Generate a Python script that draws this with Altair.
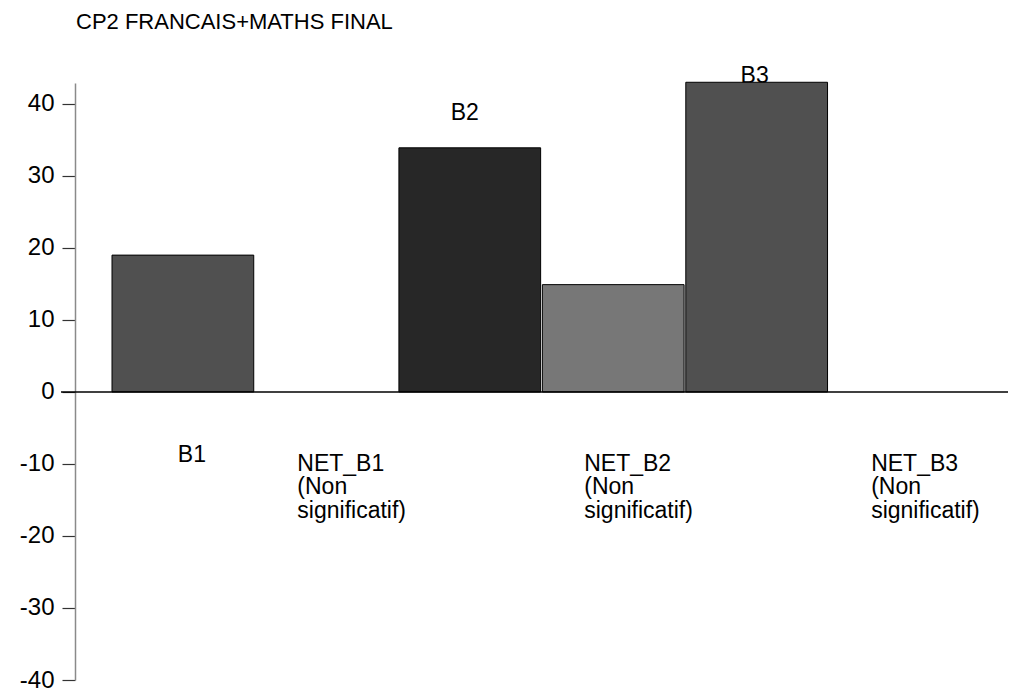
import altair as alt
import pandas as pd

categories = ["B1", "NET_B1", "B2", "NET_B2", "B3", "NET_B3"]
values = [19.0, 0.0, 33.9, 14.9, 43.0, 0.0]
bar_colors = ["#505050", "#505050", "#272727", "#777777", "#505050", "#505050"]
labels = [["B1"], ["NET_B1", "(Non", "significatif)"], ["B2"],
          ["NET_B2", "(Non", "significatif)"], ["B3"], ["NET_B3", "(Non", "significatif)"]]
y_ticks = [-40, -30, -20, -10, 0, 10, 20, 30, 40]

df = pd.DataFrame({"cat": categories, "value": values, "color": bar_colors,
                   "label": labels})

FONT = "Liberation Sans"

x_scale = alt.Scale(domain=categories, paddingInner=0.012, paddingOuter=0.258, align=0.5)
y_scale = alt.Scale(domain=[-40, 42.9], nice=False, zero=False)

x_enc = alt.X("cat:N", scale=x_scale, axis=None, sort=categories)
y_enc = alt.Y("value:Q", scale=y_scale,
              axis=alt.Axis(values=y_ticks, title=None, grid=False,
                            domainColor="#8a8a8a", domainWidth=1.5,
                            tickColor="#333333", tickSize=13, tickWidth=1.2,
                            labelFont=FONT, labelFontSize=24, labelColor="#000000",
                            labelPadding=8,
                            labelExpr="toString(datum.value)"))

base = alt.Chart(df)

bars = base.mark_bar(stroke="#000000", strokeWidth=1, opacity=1).encode(
    x=x_enc, y=y_enc, y2=alt.Y2(datum=0),
    color=alt.Color("color:N", scale=None),
).transform_filter(alt.datum.value > 0)

text_common = dict(font=FONT, fontSize=23, color="#000000", lineHeight=23.5)

# labels below the axis
lbl_b1 = base.mark_text(align="center", baseline="alphabetic", dx=9, dy=70, **text_common).encode(
    x=x_enc, y=alt.Y("zero:Q", scale=y_scale), text="label"
).transform_calculate(zero="0").transform_filter(alt.datum.cat == "B1")

lbl_net = base.mark_text(align="left", baseline="alphabetic", dx=-29, dy=79, **text_common).encode(
    x=x_enc, y=alt.Y("zero:Q", scale=y_scale), text="label"
).transform_calculate(zero="0").transform_filter("indexof(datum.cat, 'NET') == 0")

lbl_b2 = base.mark_text(align="center", baseline="alphabetic", dx=-5, dy=-28, **text_common).encode(
    x=x_enc, y=alt.Y("value:Q", scale=y_scale), text="label"
).transform_filter(alt.datum.cat == "B2")

lbl_b3 = base.mark_text(align="center", baseline="alphabetic", dx=-2, dy=1, **text_common).encode(
    x=x_enc, y=alt.Y("value:Q", scale=y_scale), text="label"
).transform_filter(alt.datum.cat == "B3")

zero_line = alt.Chart(pd.DataFrame({"z": [0]})).mark_rule(
    color="#000000", strokeWidth=1.5
).encode(
    y=alt.Y("z:Q", scale=y_scale),
    x=alt.value(-14), x2=alt.value(933),
)

chart = alt.layer(lbl_b1, lbl_net, lbl_b2, lbl_b3, bars, zero_line).properties(
    width=933, height=597,
    title=alt.TitleParams("CP2 FRANCAIS+MATHS FINAL", anchor="start", frame="group",
                          font=FONT, fontSize=22, fontWeight="normal", color="#000000",
                          offset=31, dx=1),
    autosize=alt.AutoSizeParams(type="none"),
    padding={"left": 67, "top": 75, "right": 5, "bottom": 10},
    background="#ffffff",
).configure_view(stroke=None)

chart.save("out.html", embed_options={"renderer": "svg", "actions": False})
